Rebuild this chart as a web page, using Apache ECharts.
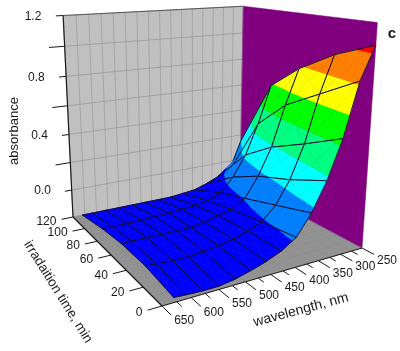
<!DOCTYPE html>
<html><head><meta charset="utf-8">
<style>html,body{margin:0;padding:0;background:#fff}#c{width:400px;height:351px}</style>
<script src="https://cdn.jsdelivr.net/npm/echarts@6/dist/echarts.min.js"></script>
</head><body><div id="c"></div>
<script>
// ---- data ----
const wavelengths = [250,280,310,340,370,400,430,460,490,520,550,580,610,630];
const times = [0,30,60,87,120];
const a250 = [1.07,0.97,0.83,0.66,0.15];
const a280 = [0.87,0.73,0.59,0.39,-0.08];
const a310 = [0.54,0.42,0.31,0.17,-0.11];
const a340 = [0.30,0.20,0.12,0.02,-0.15];
const a370 = [0.12,0.05,-0.02,-0.08,-0.18];
const a400 = [-0.01,-0.04,-0.08,-0.12,-0.19];
const a430 = [-0.07,-0.08,-0.10,-0.135,-0.20];
const a460 = [-0.11,-0.11,-0.125,-0.145,-0.20];
const a490 = [-0.14,-0.13,-0.14,-0.15,-0.20];
const a520 = [-0.165,-0.14,-0.14,-0.155,-0.20];
const a550 = [-0.18,-0.15,-0.14,-0.16,-0.20];
const a580 = [-0.18,-0.15,-0.14,-0.16,-0.20];
const a610 = [-0.175,-0.145,-0.14,-0.16,-0.20];
const a630 = [-0.17,-0.14,-0.14,-0.16,-0.20];
const absorbance = [a250,a280,a310,a340,a370,a400,a430,a460,a490,a520,a550,a580,a610,a630];
const levels = [-0.2,-0.025,0.15,0.325,0.5,0.675,0.85,1.025,1.2];
const bandColors = ['#0000ff','#0080ff','#00ffff','#00ff80','#00ff00','#ffff00','#ff8000','#ff0000'];
const wavelengthTicks = [650,600,550,500,450,400,350,300,250];
const timeTicks = [0,20,40,60,80,100,120];
const absorbanceTicks = ['0.0','0.2','0.4','0.6','0.8','1.0','1.2'];
const absorbanceShown = ['0.0','0.4','0.8','1.2'];

// ---- projection of the box ----
const xRange=[650,250], tRange=[0,120], zRange=[-0.2,1.2];
const cB=[162,306],cC=[362,248],cD=[240,183],cA=[73,217];
const tA=[62,15],tC=[375,26],tD=[246,4];
function squareToQuad(p0,p1,p2,p3){
  const dx1=p1[0]-p2[0],dx2=p3[0]-p2[0],sx=p0[0]-p1[0]+p2[0]-p3[0];
  const dy1=p1[1]-p2[1],dy2=p3[1]-p2[1],sy=p0[1]-p1[1]+p2[1]-p3[1];
  const den=dx1*dy2-dx2*dy1;
  const g=(sx*dy2-dx2*sy)/den,h=(dx1*sy-sx*dy1)/den;
  return [[p1[0]-p0[0]+g*p1[0],p3[0]-p0[0]+h*p3[0],p0[0]],
          [p1[1]-p0[1]+g*p1[1],p3[1]-p0[1]+h*p3[1],p0[1]],
          [g,h,1]];
}
const H=squareToQuad(cB,cC,cD,cA);
function floorH(u,v){return [H[0][0]*u+H[0][1]*v+H[0][2],H[1][0]*u+H[1][1]*v+H[1][2],H[2][0]*u+H[2][1]*v+H[2][2]];}
function solve3(A,b){
  const M=A.map((r,i)=>r.concat(b[i]));
  for(let i=0;i<3;i++){let p=i;for(let k=i+1;k<3;k++)if(Math.abs(M[k][i])>Math.abs(M[p][i]))p=k;
    [M[i],M[p]]=[M[p],M[i]];
    for(let k=0;k<3;k++){if(k===i)continue;const f=M[k][i]/M[i][i];for(let j=i;j<4;j++)M[k][j]-=f*M[i][j];}}
  return M.map((r,i)=>r[3]/r[i]);
}
const Zc=(function(){
  const rows=[],rhs=[];
  [[0,1,tA],[1,0,tC],[1,1,tD]].forEach(q=>{const f=floorH(q[0],q[1]),x=q[2][0],y=q[2][1];
    rows.push([1,0,-x]);rhs.push(x*f[2]-f[0]);rows.push([0,1,-y]);rhs.push(y*f[2]-f[1]);});
  const A=[[0,0,0],[0,0,0],[0,0,0]],b=[0,0,0];
  rows.forEach((r,n)=>{for(let i=0;i<3;i++){b[i]+=r[i]*rhs[n];for(let j=0;j<3;j++)A[i][j]+=r[i]*r[j];}});
  return solve3(A,b);
})();
function U(l){return (xRange[0]-l)/(xRange[0]-xRange[1]);}
function V(t){return (t-tRange[0])/(tRange[1]-tRange[0]);}
function Zn(z){return (z-zRange[0])/(zRange[1]-zRange[0]);}
function prUV(u,v,n){const f=floorH(u,v);const w=f[2]+Zc[2]*n;return [(f[0]+Zc[0]*n)/w,(f[1]+Zc[1]*n)/w];}
function pr(l,t,z){return prUV(U(l),V(t),Zn(z));}

// ---- surface cells, farthest first ----
const cells=[];
for(let i=0;i<wavelengths.length-1;i++)for(let j=0;j<times.length-1;j++){
  const f=floorH((U(wavelengths[i])+U(wavelengths[i+1]))/2,(V(times[j])+V(times[j+1]))/2);
  cells.push([i,j,f[2]]);
}
cells.sort((a,b)=>b[2]-a[2]);
function clipBand(poly,lo,hi){
  function clip(pts,keep,cross){const out=[];for(let k=0;k<pts.length;k++){const a=pts[k],b=pts[(k+1)%pts.length];
    const ka=keep(a[2]),kb=keep(b[2]);if(ka)out.push(a);
    if(ka!==kb){const s=(cross-a[2])/(b[2]-a[2]);out.push([a[0]+s*(b[0]-a[0]),a[1]+s*(b[1]-a[1]),cross]);}}return out;}
  let p=clip(poly,z=>z>=lo,lo);if(p.length)p=clip(p,z=>z<=hi,hi);return p;
}
function renderCell(params,api){
  const i=api.value(0),j=api.value(1);
  const l0=wavelengths[i],l1=wavelengths[i+1],t0=times[j],t1=times[j+1];
  const P=[[l0,t0,absorbance[i][j]],[l1,t0,absorbance[i+1][j]],[l1,t1,absorbance[i+1][j+1]],[l0,t1,absorbance[i][j+1]]];
  const c=[0,1,2].map(d=>(P[0][d]+P[1][d]+P[2][d]+P[3][d])/4);
  const kids=[];
  for(let k=0;k<4;k++){const tri=[P[k],P[(k+1)%4],c];
    for(let b=0;b<bandColors.length;b++){const q=clipBand(tri,levels[b],levels[b+1]);
      if(q.length>2)kids.push({type:'polygon',shape:{points:q.map(v=>pr(v[0],v[1],v[2]))},
        style:{fill:bandColors[b],stroke:bandColors[b],lineWidth:0.5},silent:true});}}
  kids.push({type:'polygon',shape:{points:P.map(v=>pr(v[0],v[1],v[2]))},
    style:{fill:'none',stroke:'#101030',lineWidth:1},silent:true});
  return {type:'group',children:kids};
}
function line(a,b,color,w){return {type:'line',shape:{x1:a[0],y1:a[1],x2:b[0],y2:b[1]},style:{stroke:color,lineWidth:w},silent:true};}
function text(s,x,y,o){return Object.assign({type:'text',x:x,y:y,rotation:(o&&o.rot)||0,silent:true,
  style:Object.assign({text:s,fill:'#1a1a1a',font:'12px "Liberation Sans"',align:'center',verticalAlign:'middle'},o&&o.style)});}
function renderBox(){
  const k=[];
  const poly=(pts,fill)=>k.push({type:'polygon',shape:{points:pts},style:{fill:fill},silent:true});
  poly([prUV(0,1,0),prUV(1,1,0),prUV(1,1,1),prUV(0,1,1)],'#c0c0c0');
  poly([prUV(1,0,0),prUV(1,1,0),prUV(1,1,1),prUV(1,0,1)],'#800080');
  poly([prUV(0,0,0),prUV(1,0,0),prUV(1,1,0),prUV(0,1,0)],'#929292');
  for(let l=250;l<=650;l+=25){const u=U(l);
    k.push(line(prUV(u,1,0),prUV(u,1,1),'#9a9a9a',0.7));
    k.push(line(prUV(u,0,0),prUV(u,1,0),'#888888',0.5));}
  for(let z=-0.2;z<1.21;z+=0.2){const n=Zn(z);
    k.push(line(prUV(0,1,n),prUV(1,1,n),'#949494',0.7));
    k.push(line(prUV(1,0,n),prUV(1,1,n),'#760078',0.5));}
  for(let t=0;t<=120;t+=10){const v=V(t);
    k.push(line(prUV(1,v,0),prUV(1,v,1),'#760078',0.5));
    k.push(line(prUV(0,v,0),prUV(1,v,0),'#888888',0.5));}
  return {type:'group',children:k};
}
function renderAxes(){
  const k=[],ink='#1a1a1a';
  k.push(line(prUV(0,1,0),prUV(0,1,1),ink,1.2));
  k.push(line(prUV(0,1,1),prUV(1,1,1),'#444',0.8));
  k.push(line(prUV(0,0,0),prUV(0,1,0),ink,1.2));
  k.push(line(prUV(0,0,0),prUV(1,0,0),ink,1));
  // wavelength axis
  for(let l=250;l<=650;l+=25){const major=l%50===0,u=U(l);
    const e=prUV(u,major?-0.075:-0.04,0);
    k.push(line(prUV(u,0,0),e,ink,1));
    if(major&&wavelengthTicks.indexOf(l)>=0)k.push(text(String(l),e[0]+13,e[1]+6));}
  // time axis
  timeTicks.forEach(t=>{const v=V(t),e=prUV(-0.06,v,0);
    k.push(line(prUV(0,v,0),e,ink,1));
    k.push(text(String(t),e[0]-5,e[1]+2,{style:{align:'right'}}));});
  // absorbance axis
  absorbanceTicks.forEach(s=>{const shown=absorbanceShown.indexOf(s)>=0,n=Zn(parseFloat(s));
    const a=prUV(0,1,n),e=prUV(shown?-0.035:-0.075,1,n);
    k.push(line(a,e,ink,1));
    if(shown)k.push(text(s,prUV(-0.075,1,n)[0]-6,a[1]+1,{style:{align:'right'}}));});
  k.push(text('absorbance',14,131,{rot:Math.PI/2,style:{font:'13px "Liberation Sans"'}}));
  k.push(text('irradaition time, min',58,292,{rot:-58*Math.PI/180,style:{font:'13.5px "Liberation Sans"'}}));
  k.push(text('wavelength, nm',301,310,{rot:15*Math.PI/180,style:{font:'14px "Liberation Sans"'}}));
  k.push(text('c',392,34,{style:{font:'bold 15px "Liberation Sans"'}}));
  return {type:'group',children:k};
}
const chart=echarts.init(document.getElementById('c'),null,{renderer:'canvas',width:400,height:351});
chart.setOption({animation:false,backgroundColor:'#fff',series:[
  {type:'custom',coordinateSystem:'none',data:[[0]],renderItem:renderBox,silent:true,z:1},
  {type:'custom',coordinateSystem:'none',data:cells,renderItem:renderCell,silent:true,z:2},
  {type:'custom',coordinateSystem:'none',data:[[0]],renderItem:renderAxes,silent:true,z:3}
]});
</script></body></html>
